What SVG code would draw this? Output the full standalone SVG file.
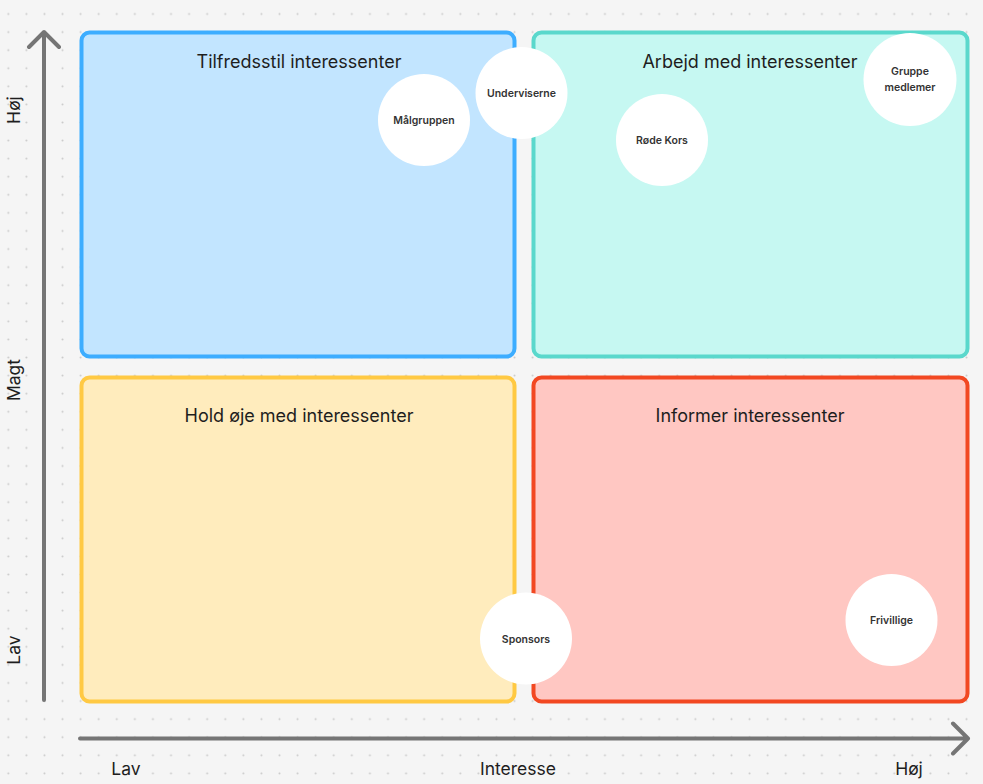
<svg xmlns="http://www.w3.org/2000/svg" width="983" height="784" viewBox="0 0 983 784">
<defs>
<pattern id="dots" patternUnits="userSpaceOnUse" x="-0.74" y="4.96" width="18.08" height="18.08">
<circle cx="9.04" cy="9.04" r="1" fill="#c9c9c9"/>
</pattern>
<style>
.quad{stroke-width:4}
.title{font-family:Inter,"Noto Sans",sans-serif;font-size:18px;fill:#1e1e1e;text-anchor:middle}
.axis{font-family:Inter,"Noto Sans",sans-serif;font-size:17.5px;fill:#1e1e1e;text-anchor:middle}
.node circle{fill:#ffffff}
.node text{font-family:Inter,"Noto Sans",sans-serif;font-size:10.5px;font-weight:600;fill:#333333;text-anchor:middle}
.ax{stroke:#757575;stroke-width:4;fill:none;stroke-linecap:round;stroke-linejoin:round}
</style>
</defs>
<rect width="983" height="784" fill="#f5f5f5"/>
<rect width="983" height="784" fill="url(#dots)"/>

<g id="q-tl"><rect class="quad" x="81.5" y="32.5" width="433" height="324" rx="8" fill="#c2e5ff" stroke="#3dadff"/>
<text class="title" x="299" y="68">Tilfredsstil interessenter</text></g>
<g id="q-tr"><rect class="quad" x="533.5" y="32.5" width="434" height="324" rx="8" fill="#c6f8f2" stroke="#5ad8cc"/>
<text class="title" x="750" y="68">Arbejd med interessenter</text></g>
<g id="q-bl"><rect class="quad" x="81.5" y="377.5" width="433" height="324" rx="8" fill="#ffecbd" stroke="#ffc943"/>
<text class="title" x="299" y="422">Hold øje med interessenter</text></g>
<g id="q-br"><rect class="quad" x="533.5" y="377.5" width="434" height="324" rx="8" fill="#ffc7c2" stroke="#f24822"/>
<text class="title" x="750" y="422">Informer interessenter</text></g>

<g id="connectors">
<path class="ax" d="M44 700 V32 M29 47 L44 32 L59 47"/>
<path class="ax" d="M80 738.5 H968 M953 723.5 L968 738.5 L953 753.5"/>
</g>

<g id="axis-labels">
<text class="axis" transform="translate(20,110) rotate(-90)">Høj</text>
<text class="axis" transform="translate(20,380) rotate(-90)">Magt</text>
<text class="axis" transform="translate(20,650) rotate(-90)">Lav</text>
<text class="axis" x="126" y="775">Lav</text>
<text class="axis" x="518" y="775">Interesse</text>
<text class="axis" x="909" y="775">Høj</text>
</g>

<g id="n-malgruppen" class="node"><circle cx="424" cy="120" r="46"/><text x="424" y="124">Målgruppen</text></g>
<g id="n-underviserne" class="node"><circle cx="521.5" cy="93" r="46"/><text x="521.5" y="97">Underviserne</text></g>
<g id="n-rodekors" class="node"><circle cx="662" cy="140" r="46"/><text x="662" y="144">Røde Kors</text></g>
<g id="n-gruppe" class="node"><circle cx="910" cy="79.5" r="46.5"/><text x="910" y="75">Gruppe</text><text x="910" y="91">medlemer</text></g>
<g id="n-sponsors" class="node"><circle cx="526" cy="638.5" r="46"/><text x="526" y="642.5">Sponsors</text></g>
<g id="n-frivillige" class="node"><circle cx="891.5" cy="620" r="46"/><text x="891.5" y="624">Frivillige</text></g>
</svg>
